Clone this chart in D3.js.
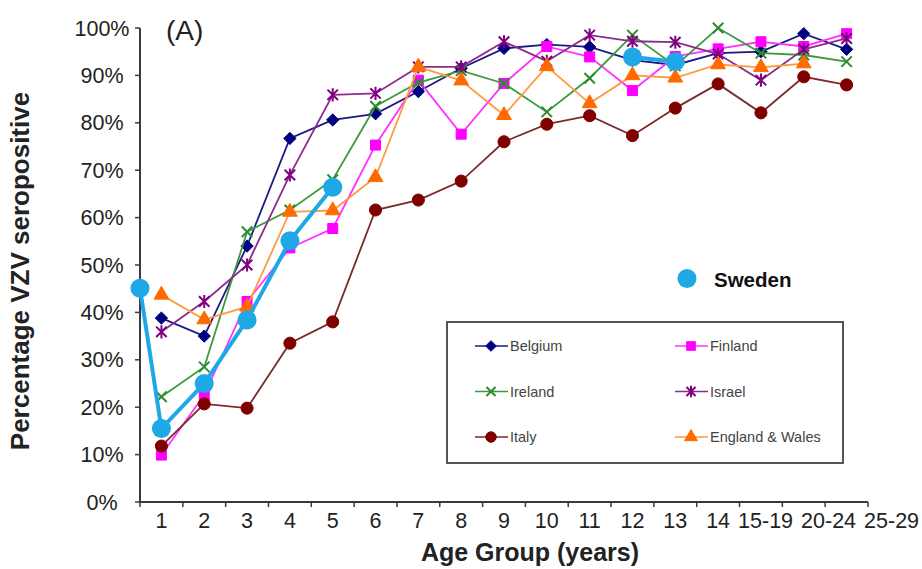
<html>
<head>
<meta charset="utf-8">
<script src="https://d3js.org/d3.v7.min.js"></script>
</head>
<body>
<div class="chart"></div>
<script>
    // age groups on the x axis
    var ages = ["1", "2", "3", "4", "5", "6", "7", "8", "9", "10", "11", "12", "13", "14", "15-19", "20-24", "25-29"];
    var yTicks = [0, 10, 20, 30, 40, 50, 60, 70, 80, 90, 100];

    // percentage seropositive per age group
    var belgium = [38.8, 35.0, 54.0, 76.7, 80.6, 81.9, 86.6, 91.5, 95.7, 96.5, 96.0, 93.2, 92.2, 94.7, 95.0, 98.8, 95.5];
    var finland = [9.9, 22.6, 42.3, 53.6, 57.7, 75.3, 89.0, 77.6, 88.3, 96.1, 93.9, 86.8, 94.0, 95.6, 97.1, 96.1, 98.8];
    var ireland = [22.2, 28.5, 57.0, 61.6, 68.0, 83.5, 88.5, 91.0, 88.3, 82.3, 89.4, 98.5, 92.0, 100.0, 94.7, 94.3, 92.9];
    var israel = [35.9, 42.3, 50.0, 69.0, 85.9, 86.2, 91.8, 91.8, 97.1, 93.0, 98.5, 97.2, 97.0, 94.5, 89.0, 95.5, 97.8];
    var italy = [11.8, 20.7, 19.8, 33.5, 38.0, 61.6, 63.7, 67.7, 76.0, 79.7, 81.5, 77.3, 83.1, 88.2, 82.1, 89.7, 88.0];
    var england = [43.7, 38.5, 41.2, 61.2, 61.5, 68.5, 91.8, 88.9, 81.6, 91.9, 84.1, 90.0, 89.5, 92.3, 91.7, 92.5, null];

    // Sweden was added on top, in two pieces (first point sits on the y axis)
    var swedenAgesA = [0.5, 1, 2, 3, 4, 5];
    var swedenValuesA = [45.1, 15.5, 25.0, 38.4, 55.1, 66.4];
    var swedenAgesB = [12, 13];
    var swedenValuesB = [93.9, 92.9];

    // custom marker shapes (Excel style)
    var symX = { draw: function (c, s) { var r = Math.sqrt(s) / 2; c.moveTo(-r, -r); c.lineTo(r, r); c.moveTo(-r, r); c.lineTo(r, -r); } };
    var symStar = { draw: function (c, s) { var r = Math.sqrt(s) / 2; c.moveTo(-r, -r); c.lineTo(r, r); c.moveTo(-r, r); c.lineTo(r, -r); c.moveTo(0, -r * 1.25); c.lineTo(0, r * 1.25); } };
    var symDiamond = { draw: function (c, s) { var r = Math.sqrt(s) / 2 * 1.3; c.moveTo(0, -r); c.lineTo(r, 0); c.lineTo(0, r); c.lineTo(-r, 0); c.closePath(); } };

    var series = [
        { name: 'Belgium', values: belgium, line: '#1a1a80', mark: '#000080', shape: symDiamond, size: 90, stroke: false },
        { name: 'Finland', values: finland, line: '#ff33ff', mark: '#ff00ff', shape: d3.symbolSquare, size: 100, stroke: false },
        { name: 'Ireland', values: ireland, line: '#3c9a3c', mark: '#2e8b2e', shape: symX, size: 110, stroke: true },
        { name: 'Israel', values: israel, line: '#8e2a8e', mark: '#800080', shape: symStar, size: 110, stroke: true },
        { name: 'Italy', values: italy, line: '#7a2a2a', mark: '#800000', shape: d3.symbolCircle, size: 115, stroke: false },
        { name: 'England & Wales', values: england, line: '#ff9a40', mark: '#ff6a00', shape: d3.symbolTriangle, size: 95, stroke: false }
    ];

    var width = 922, height = 569;
    var svg = d3.select('.chart').append('svg')
        .attr('width', width).attr('height', height)
        .style('font-family', 'Liberation Sans, Arial, sans-serif');

    var x = d3.scaleLinear().domain([0.5, ages.length + 0.5]).range([140, 868]);
    var y = d3.scaleLinear().domain([0, 100]).range([502, 28]);

    // axes
    var axisColor = '#3a3a3a';
    svg.append('line').attr('x1', x(0.5)).attr('x2', x(0.5)).attr('y1', y(0)).attr('y2', y(100))
        .attr('stroke', axisColor).attr('stroke-width', 2);
    svg.append('line').attr('x1', x(0.5) - 1).attr('x2', x(ages.length + 0.5)).attr('y1', y(0)).attr('y2', y(0))
        .attr('stroke', axisColor).attr('stroke-width', 2);

    svg.selectAll('.ytick').data(yTicks).enter().append('line')
        .attr('x1', x(0.5) - 5).attr('x2', x(0.5)).attr('y1', function (d) { return y(d); }).attr('y2', function (d) { return y(d); })
        .attr('stroke', axisColor).attr('stroke-width', 1.5);
    svg.selectAll('.ylab').data(yTicks).enter().append('text')
        .attr('x', 102).attr('y', function (d) { return y(d); }).attr('dy', '0.35em')
        .attr('text-anchor', 'middle').attr('font-size', 21.5).attr('fill', '#222')
        .text(function (d) { return d + '%'; });

    svg.selectAll('.xtick').data(d3.range(0.5, ages.length + 1, 1)).enter().append('line')
        .attr('x1', function (d) { return x(d); }).attr('x2', function (d) { return x(d); })
        .attr('y1', y(0)).attr('y2', y(0) + 5)
        .attr('stroke', axisColor).attr('stroke-width', 1.5);
    var xlabs = svg.selectAll('.xlab').data(ages).enter().append('text')
        .attr('x', function (d, i) { return x(i + 1); }).attr('y', 528)
        .attr('text-anchor', 'middle').attr('font-size', 21.5).attr('fill', '#222')
        .text(function (d) { return d; });

    // push wide labels to the right so they don't overlap
    var prevRight = -Infinity;
    xlabs.each(function (d, i) {
        var w = this.getComputedTextLength();
        var cx = x(i + 1);
        if (cx - w / 2 < prevRight + 8) cx = prevRight + 8 + w / 2;
        d3.select(this).attr('x', cx);
        prevRight = cx + w / 2;
    });

    // titles
    svg.append('text').attr('transform', 'translate(28.5,271) rotate(-90)')
        .attr('text-anchor', 'middle').attr('font-size', 26).attr('font-weight', 'bold').attr('fill', '#222')
        .text('Percentage VZV seropositive');
    svg.append('text').attr('x', 530).attr('y', 561)
        .attr('text-anchor', 'middle').attr('font-size', 25).attr('font-weight', 'bold').attr('fill', '#222')
        .text('Age Group (years)');
    svg.append('text').attr('x', 166).attr('y', 40)
        .attr('font-size', 28).attr('fill', '#222').text('(A)');

    // series
    var line = d3.line()
        .defined(function (d) { return d != null; })
        .x(function (d, i) { return x(i + 1); })
        .y(function (d) { return y(d); });

    function drawMarks(g, s, pts, scale) {
        g.selectAll('path.mark').data(pts).enter().append('path')
            .attr('class', 'mark')
            .attr('transform', function (p) { return 'translate(' + p[0] + ',' + p[1] + ')'; })
            .attr('d', d3.symbol().type(s.shape).size(s.size * scale))
            .attr('fill', s.stroke ? 'none' : s.mark)
            .attr('stroke', s.mark)
            .attr('stroke-width', s.stroke ? 2 : 1);
    }

    series.forEach(function (s) {
        var g = svg.append('g');
        g.append('path').attr('d', line(s.values))
            .attr('fill', 'none').attr('stroke', s.line).attr('stroke-width', 1.8);
        var pts = [];
        s.values.forEach(function (v, i) { if (v != null) pts.push([x(i + 1), y(v)]); });
        drawMarks(g, s, pts, 1);
    });

    var swedenColor = '#1ea8e6';
    var sweLine = d3.line().x(function (d) { return x(d[0]); }).y(function (d) { return y(d[1]); });
    [[swedenAgesA, swedenValuesA], [swedenAgesB, swedenValuesB]].forEach(function (part) {
        var pts = part[0].map(function (a, i) { return [a, part[1][i]]; });
        svg.append('path').attr('d', sweLine(pts))
            .attr('fill', 'none').attr('stroke', swedenColor).attr('stroke-width', 4);
        svg.selectAll(null).data(pts).enter().append('circle')
            .attr('cx', function (d) { return x(d[0]); }).attr('cy', function (d) { return y(d[1]); })
            .attr('r', 9.5).attr('fill', swedenColor);
    });

    // legend
    var legend = svg.append('g');
    legend.append('rect').attr('x', 447).attr('y', 322).attr('width', 396).attr('height', 141)
        .attr('fill', 'white').attr('stroke', '#555').attr('stroke-width', 2);
    series.forEach(function (s, i) {
        var col = i % 2, row = Math.floor(i / 2);
        var lx = col === 0 ? 475 : 675, ly = 346 + row * 45.5;
        var g = legend.append('g');
        g.append('line').attr('x1', lx).attr('x2', lx + 33).attr('y1', ly).attr('y2', ly)
            .attr('stroke', s.line).attr('stroke-width', 1.6);
        drawMarks(g, s, [[lx + 16, ly]], 0.75);
        g.append('text').attr('x', lx + 35).attr('y', ly).attr('dy', '0.35em')
            .attr('font-size', 14.5).attr('fill', '#444').text(s.name);
    });

    svg.append('circle').attr('cx', 687).attr('cy', 278.5).attr('r', 9.5).attr('fill', swedenColor);
    svg.append('text').attr('x', 714).attr('y', 286.5)
        .attr('font-size', 20.5).attr('font-weight', 'bold').attr('fill', '#111').text('Sweden');
</script>
<style>
    body { margin: 0; background: white; }
</style>
</body>
</html>
